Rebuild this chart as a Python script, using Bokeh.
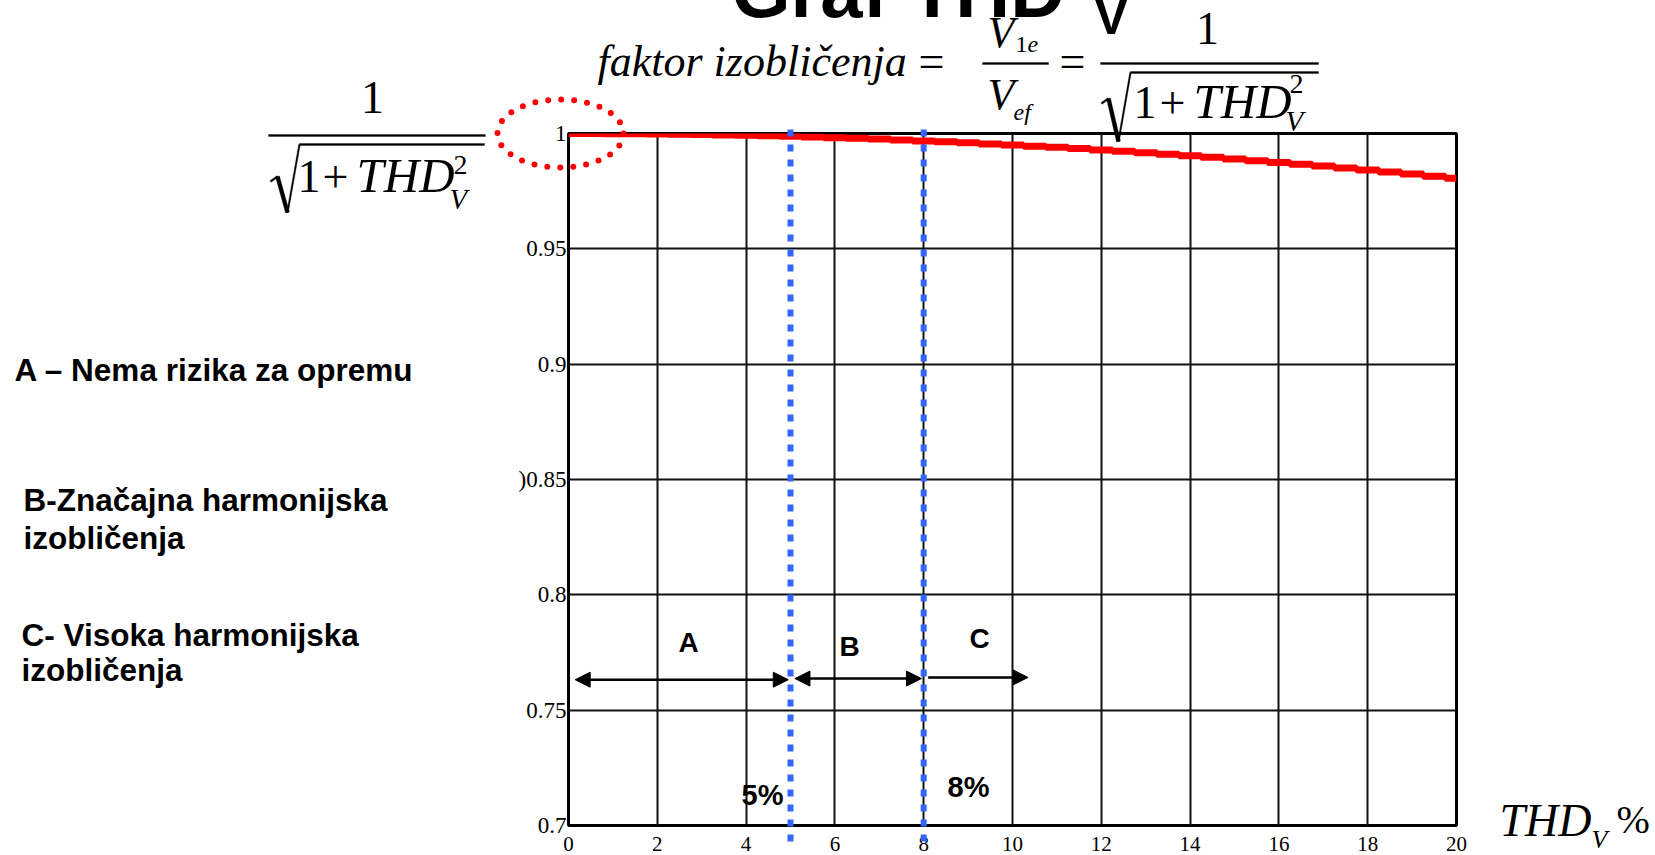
import math

from bokeh.plotting import figure
from bokeh.models import Arrow, NormalHead, FixedTicker, Range1d
from bokeh.core.properties import value
from bokeh.embed import file_html
from bokeh.resources import INLINE

# ---- data -------------------------------------------------------------
# THD_V in percent and the distortion factor V1e/Vef = 1/sqrt(1+THD_V^2)
thd_pct = [0.0, 0.5, 1.0, 1.5, 2.0, 2.5, 3.0, 3.5, 4.0, 4.5, 5.0, 5.5, 6.0, 6.5,
           7.0, 7.5, 8.0, 8.5, 9.0, 9.5, 10.0, 10.5, 11.0, 11.5, 12.0, 12.5,
           13.0, 13.5, 14.0, 14.5, 15.0, 15.5, 16.0, 16.5, 17.0, 17.5, 18.0,
           18.5, 19.0, 19.5, 20.0]
dist_factor = [1.0000, 1.0000, 0.9999, 0.9999, 0.9998, 0.9997, 0.9996, 0.9994,
               0.9992, 0.9990, 0.9988, 0.9985, 0.9982, 0.9979, 0.9976, 0.9972,
               0.9968, 0.9964, 0.9960, 0.9955, 0.9950, 0.9945, 0.9940, 0.9935,
               0.9929, 0.9923, 0.9917, 0.9910, 0.9903, 0.9897, 0.9889, 0.9882,
               0.9874, 0.9867, 0.9859, 0.9850, 0.9842, 0.9833, 0.9824, 0.9815,
               0.9806]

x_ticks = [0, 2, 4, 6, 8, 10, 12, 14, 16, 18, 20]
y_ticks = [0.7, 0.75, 0.8, 0.85, 0.9, 0.95, 1.0]
y_tick_labels = ["0.7", "0.75", "0.8", ")0.85", "0.9", "0.95", "1"]

limits_pct = [5, 8]
limit_labels = ["5%", "8%"]

zone_names = ["A", "B", "C"]
zone_x0 = [0.15, 5.1, 8.1]
zone_x1 = [4.95, 7.95, 10.35]
zone_y = [0.7632, 0.7637, 0.7642]

zone_notes = [["A \u2013 Nema rizika za opremu"],
              ["B-Zna\u010dajna harmonijska", "izobli\u010denja"],
              ["C- Visoka harmonijska", "izobli\u010denja"]]

# ---- canvas geometry --------------------------------------------------
W, H = 1655, 855
BL, BR, BT, BB = 568, 199, 133, 30
FW, FH = W - BL - BR, H - BT - BB
X0, X1 = 0.0, 20.0
Y0, Y1 = 0.7, 1.0
BASE_SHIFT = 0.41   # alphabetic baseline correction, in em


def dx(px):
    return X0 + (px - BL) / FW * (X1 - X0)


def dy(py):
    return Y1 - (py - BT) / FH * (Y1 - Y0)


p = figure(width=W, height=H, x_range=Range1d(X0, X1), y_range=Range1d(Y0, Y1),
           min_border_left=BL, min_border_right=BR, min_border_top=BT,
           min_border_bottom=BB, output_backend="svg", toolbar_location=None,
           background_fill_color="white", border_fill_color="white")

p.outline_line_color = "black"
p.outline_line_width = 3

p.xaxis.ticker = FixedTicker(ticks=x_ticks)
p.yaxis.ticker = FixedTicker(ticks=y_ticks)
p.yaxis.major_label_overrides = dict(zip(y_ticks, y_tick_labels))
for ax in (p.xaxis[0], p.yaxis[0]):
    ax.axis_line_color = None
    ax.major_tick_line_color = None
    ax.minor_tick_line_color = None
    ax.major_label_text_font = "Liberation Serif"
    ax.major_label_text_color = "black"
p.xaxis.major_label_text_font_size = "21px"
p.xaxis.major_label_standoff = 5
p.yaxis.major_label_text_font_size = "23px"
p.yaxis.major_label_standoff = -4

p.xgrid.ticker = FixedTicker(ticks=x_ticks)
p.ygrid.ticker = FixedTicker(ticks=y_ticks)
for g in (p.xgrid[0], p.ygrid[0]):
    g.grid_line_color = "#111111"
    g.grid_line_width = 2
    g.grid_line_alpha = 1.0

# distortion factor curve
p.step(thd_pct, dist_factor, mode="center", line_width=7, color="#ff0000")

# THD limits as dotted blue verticals
p.segment(x0=limits_pct, y0=[dy(129)] * len(limits_pct),
          x1=limits_pct, y1=[dy(841)] * len(limits_pct),
          line_color="#3366ff", line_width=6, line_dash="7 8", level="overlay")

# zone arrows
for i, name in enumerate(zone_names):
    start = None if i == len(zone_names) - 1 else NormalHead(size=15, fill_color="black", line_color="black")
    p.add_layout(Arrow(start=start,
                       end=NormalHead(size=15, fill_color="black", line_color="black"),
                       x_start=zone_x0[i], y_start=zone_y[i],
                       x_end=zone_x1[i], y_end=zone_y[i],
                       line_color="black", line_width=2.5))


def put(text, px, py, size, font="Liberation Serif", style="normal", align="left"):
    p.text(x=[dx(px)], y=[dy(py - BASE_SHIFT * size)], text=[text], text_font=value(font),
           text_font_size=value(f"{size}px"), text_font_style=value(style),
           text_align=value(align), text_baseline=value("alphabetic"),
           text_color="black", level="overlay")


def stroke(x0, y0, x1, y1, w):
    ang = math.atan2(y1 - y0, x1 - x0)
    nx, ny = -math.sin(ang) * w / 2, math.cos(ang) * w / 2
    pts = [(x0 + nx, y0 + ny), (x1 + nx, y1 + ny), (x1 - nx, y1 - ny), (x0 - nx, y0 - ny)]
    p.patch([dx(a) for a, _ in pts], [dy(b) for _, b in pts],
            fill_color="black", line_color="black", line_width=0.3, level="overlay")


def radical(xl, y_hook, xb, yb, xt, yt, xr):
    stroke(xl, y_hook, xl + 7, y_hook - 5, 2)
    stroke(xl + 7, y_hook - 5, xb, yb, 4)
    stroke(xb, yb, xt, yt, 1.6)
    stroke(xt, yt, xr, yt, 2)


# slide heading, running off the top edge
put("Graf THD", 731, 21, 76, font="Liberation Sans", style="bold")
put("V", 1094, 37, 50, font="Liberation Sans", style="bold")

# zone labels inside the chart
zone_lbl_px = [(688, 653), (849, 657), (979, 649)]
for name, (px, py) in zip(zone_names, zone_lbl_px):
    put(name, px, py, 28, font="Liberation Sans", style="bold", align="center")
limit_lbl_px = [(762, 806), (968, 798)]
for txt, (px, py) in zip(limit_labels, limit_lbl_px):
    put(txt, px, py, 29, font="Liberation Sans", style="bold", align="center")

# zone descriptions on the left
note_px = [(14, [382]), (23, [512, 550]), (21, [647, 682])]
for lines, (px, pys) in zip(zone_notes, note_px):
    for line, py in zip(lines, pys):
        put(line, px, py, 31.5, font="Liberation Sans", style="bold")

# x axis title  THD_V %
put("THD", 1499, 839, 46, style="italic")
put("V", 1591, 850, 26, style="italic")
put("%", 1616, 835, 40)

# y axis title  1 / sqrt(1 + THD_V^2)
put("1", 372, 116, 46, align="center")
stroke(268, 135, 485, 135, 2)
radical(270, 181, 287, 212, 299, 144, 484)
put("1", 297, 195, 46)
put("+", 322, 195, 46)
put("THD", 356, 195, 49, style="italic")
put("2", 453, 176, 28)
put("V", 449, 210, 29, style="italic")

# formula at the top
put("faktor izobli\u010denja", 597, 79, 44, style="italic")
put("=", 931, 80, 46, align="center")
put("V", 987, 50, 44, style="italic")
put("1", 1015, 54, 24)
put("e", 1027, 54, 24, style="italic")
stroke(982, 63, 1048, 63, 2)
put("V", 987, 112, 44, style="italic")
put("ef", 1013, 121, 24, style="italic")
put("=", 1072, 80, 46, align="center")
put("1", 1207, 47, 46, align="center")
stroke(1100, 63, 1318, 63, 2)
radical(1101, 103, 1118, 141, 1130, 72, 1318)
put("1", 1133, 121, 46)
put("+", 1159, 121, 46)
put("THD", 1193, 121, 49, style="italic")
put("2", 1289, 95, 28)
put("V", 1285, 132, 29, style="italic")

# dotted ring around the starting value
cx, cy, rx, ry = 560, 133, 63, 34
p.ellipse(x=[dx(cx)], y=[dy(cy)], width=[dx(cx + rx) - dx(cx - rx)],
          height=[dy(cy - ry) - dy(cy + ry)], fill_color=None,
          line_color="#ff0000", line_width=6, line_dash="0 13", line_cap="round",
          level="overlay")

open("out.html", "w").write(file_html(p, INLINE))
